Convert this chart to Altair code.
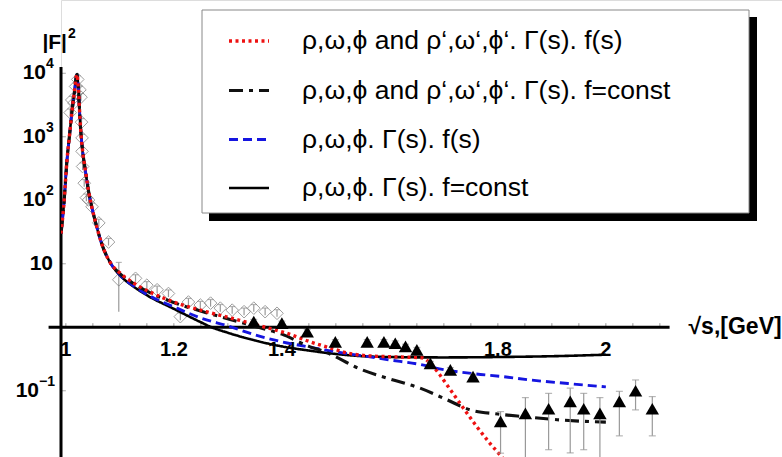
import altair as alt
import pandas as pd

# ---------------- data ----------------
# common resonance part shared by all four model curves
peak_x = [0.991, 0.996, 1.002, 1.007, 1.0115, 1.016, 1.0195, 1.0207, 1.0225, 1.0269,
          1.031, 1.036, 1.042, 1.0485, 1.055, 1.067, 1.082]
peak_y = [30, 80, 420, 1100, 2600, 5200, 9000, 9600, 7000, 1500,
          600, 300, 140, 75, 45, 20, 10.5]

black_x = [1.1, 1.125, 1.15, 1.2, 1.25, 1.27, 1.3, 1.35, 1.4, 1.45, 1.5, 1.55, 1.6, 1.7, 1.8, 1.9, 2.0]
black_y = [6.6, 4.4, 3.2, 1.95, 1.2, 1.0, 0.82, 0.62, 0.5, 0.43, 0.38, 0.35, 0.34, 0.335, 0.34, 0.35, 0.37]

blue_x = [1.1, 1.125, 1.15, 1.2, 1.25, 1.3, 1.35, 1.4, 1.45, 1.5, 1.56, 1.6, 1.65, 1.7, 1.76, 1.81, 1.86, 1.93, 2.0]
blue_y = [6.7, 4.5, 3.3, 2.1, 1.4, 1.05, 0.76, 0.59, 0.49, 0.41, 0.344, 0.305, 0.265, 0.215, 0.184, 0.167, 0.148, 0.13, 0.115]

dd_x = [1.1, 1.125, 1.15, 1.2, 1.26, 1.32, 1.36, 1.4, 1.45, 1.48, 1.545, 1.595, 1.656, 1.703, 1.749, 1.8, 1.85, 1.91, 1.96, 2.0]
dd_y = [7.0, 4.9, 3.7, 2.45, 1.7, 1.22, 0.98, 0.78, 0.5, 0.41, 0.22, 0.158, 0.11, 0.074, 0.05, 0.043, 0.039, 0.035, 0.033, 0.032]

red_x = [1.1, 1.125, 1.15, 1.2, 1.26, 1.32, 1.36, 1.41, 1.45, 1.49, 1.53, 1.56, 1.62, 1.66, 1.675, 1.69,
         1.71, 1.735, 1.76, 1.785, 1.81, 1.83]
red_y = [7.2, 5.0, 3.8, 2.5, 1.76, 1.3, 1.05, 0.8, 0.6, 0.47, 0.38, 0.355, 0.34, 0.33, 0.27, 0.19,
         0.11, 0.055, 0.028, 0.015, 0.0085, 0.005]

# open diamonds (data set 1)
dia_x = [1.008, 1.011, 1.015, 1.018, 1.022, 1.026, 1.028, 1.029, 1.030, 1.030, 1.031, 1.034, 1.038,
         1.042, 1.0485, 1.061, 1.079, 1.098, 1.129, 1.15, 1.169, 1.19, 1.212, 1.227, 1.249, 1.268,
         1.286, 1.308, 1.33, 1.348, 1.369, 1.391]
dia_y = [2400, 3800, 3400, 6200, 8000, 5500, 4200, 1700, 960, 590, 340, 186, 110,
         101, 79, 44, 22, 5.6, 5.9, 4.6, 3.9, 3.4, 1.47, 2.5, 2.24, 2.4,
         2.0, 1.86, 1.76, 2.0, 1.76, 1.66]
dia_lo = [v * 0.88 for v in dia_y]
dia_hi = [v * 1.14 for v in dia_y]
dia_lo[17] = 1.76
dia_hi[17] = 10.5

# filled triangles (data set 2)
tri_x = [1.348, 1.40, 1.447, 1.499, 1.558, 1.589, 1.61, 1.629, 1.65, 1.675, 1.712, 1.754,
         1.805, 1.851, 1.894, 1.934, 1.959, 1.989, 2.025, 2.055, 2.086]
tri_y = [1.23, 1.16, 0.85, 0.59, 0.59, 0.59, 0.56, 0.50, 0.44, 0.27, 0.213, 0.167,
         0.033, 0.044, 0.052, 0.068, 0.052, 0.044, 0.068, 0.10, 0.052]
tri_lo = [1.13, 1.07, 0.79, 0.55, 0.55, 0.55, 0.52, 0.46, 0.41, 0.25, 0.195, 0.152,
          0.0104, 0.005, 0.0118, 0.0105, 0.0118, 0.005, 0.0195, 0.05, 0.0195]
tri_hi = [1.33, 1.25, 0.92, 0.64, 0.64, 0.64, 0.61, 0.54, 0.48, 0.29, 0.232, 0.182,
          0.047, 0.078, 0.091, 0.11, 0.091, 0.078, 0.098, 0.148, 0.081]

x_tick_labels = ["1", "1.2", "1.4", "1.8", "2"]
x_tick_label_pos = [1.0, 1.2, 1.4, 1.8, 2.0]
x_minor = [1.0, 1.05, 1.1, 1.15, 1.2, 1.25, 1.3, 1.35, 1.4, 1.45, 1.5, 1.55, 1.6, 1.65, 1.7,
           1.75, 1.8, 1.85, 1.9, 1.95, 2.0, 2.05, 2.1]
y_tick_pos = [0.1, 10, 100, 1000, 10000]
y_pow_pos = [100, 1000, 10000]          # labelled 10^n with one-digit exponent
y_pow_exp = ["2", "3", "4"]
y_plain_pos = [10]                      # labelled "10"
y_neg_pos = [0.1]                       # labelled 10^-1

L1 = "ρ,ω,ϕ and ρ‘,ω‘,ϕ‘. Γ(s). f(s)"
L2 = "ρ,ω,ϕ and ρ‘,ω‘,ϕ‘. Γ(s). f=const"
L3 = "ρ,ω,ϕ. Γ(s). f(s)"
L4 = "ρ,ω,ϕ. Γ(s). f=const"
series_order = [L1, L2, L3, L4]

# ---------------- tables ----------------
rows = []
for name, xs, ys in [(L4, black_x, black_y), (L3, blue_x, blue_y), (L2, dd_x, dd_y), (L1, red_x, red_y)]:
    for i, (x, y) in enumerate(zip(peak_x + xs, peak_y + ys)):
        rows.append({"series": name, "x": x, "y": y, "i": i})
curves = pd.DataFrame(rows)
dia = pd.DataFrame({"x": dia_x, "y": dia_y, "lo": dia_lo, "hi": dia_hi})
tri = pd.DataFrame({"x": tri_x, "y": tri_y, "lo": tri_lo, "hi": tri_hi})

XMIN = 0.991
X = alt.Scale(domain=[XMIN, XMIN + 721 / 540], nice=False, zero=False)
Y = alt.Scale(type="log", domain=[0.009057, 142560], nice=False)
FONT = "Liberation Sans"


def xe(f="x"):
    return alt.X(f"{f}:Q", scale=X, axis=None)


def ye(f="y"):
    return alt.Y(f"{f}:Q", scale=Y, axis=None)


def txt(df, size, dx=0, dy=0, align="right"):
    return alt.Chart(df).mark_text(
        font=FONT, fontSize=size, fontWeight="bold", baseline="middle", align=align,
        dx=dx, dy=dy, color="black").encode(x=xe(), y=ye(), text="t:N")


one = pd.DataFrame({"k": [0]})

# legend frame (shadow + box)
shadow = alt.Chart(one).mark_rect(fill="black").encode(
    x=alt.value(148), x2=alt.value(696), y=alt.value(17), y2=alt.value(221))
box = alt.Chart(one).mark_rect(fill="white", stroke="#888", strokeWidth=1).encode(
    x=alt.value(141), x2=alt.value(688), y=alt.value(10), y2=alt.value(213))

# axes
xaxis_line = alt.Chart(pd.DataFrame({"x": [0.968], "x2": [2.118], "y": [1.0]})).mark_rule(
    color="black", strokeWidth=3).encode(x=xe(), x2="x2:Q", y=ye())
yaxis_line = alt.Chart(pd.DataFrame({"x": [XMIN], "y": [12600], "y2": [0.009057]})).mark_rule(
    color="black", strokeWidth=3).encode(x=xe(), y=ye(), y2="y2:Q")
xticks = alt.Chart(pd.DataFrame({"x": x_minor, "y": [1.0] * len(x_minor), "y2": [1.16] * len(x_minor)})).mark_rule(
    color="#999", strokeWidth=1).encode(x=xe(), y=ye(), y2="y2:Q")
yticks = alt.Chart(pd.DataFrame({"y": y_tick_pos, "x": [XMIN] * 5, "x2": [1.0] * 5})).mark_rule(
    color="#aaa", strokeWidth=1).encode(x=xe(), x2="x2:Q", y=ye())
xlabels = txt(pd.DataFrame({"x": x_tick_label_pos, "y": [1.0] * 5, "t": x_tick_labels}), 20, dy=23, align="center")

pow_base = txt(pd.DataFrame({"x": [XMIN] * 3, "y": y_pow_pos, "t": ["10"] * 3}), 21, dx=-15)
pow_exp = txt(pd.DataFrame({"x": [XMIN] * 3, "y": y_pow_pos, "t": y_pow_exp}), 14, dx=-15, dy=-9, align="left")
plain = txt(pd.DataFrame({"x": [XMIN], "y": y_plain_pos, "t": ["10"]}), 21, dx=-8)
neg_base = txt(pd.DataFrame({"x": [XMIN], "y": y_neg_pos, "t": ["10"]}), 21, dx=-22)
neg_exp = txt(pd.DataFrame({"x": [XMIN], "y": y_neg_pos, "t": ["−1"]}), 14, dx=-22, dy=-9, align="left")

ytitle = txt(pd.DataFrame({"x": [XMIN], "y": [30000], "t": ["|F|"]}), 21, dx=6)
ytitle_exp = txt(pd.DataFrame({"x": [XMIN], "y": [30000], "t": ["2"]}), 14, dx=7, dy=-9, align="left")
xtitle = txt(pd.DataFrame({"x": [2.153], "y": [1.0], "t": ["√s,[GeV]"]}), 23, align="left")

leg = alt.Legend(title=None, orient="none", legendX=166, legendY=19, symbolType="stroke",
                 symbolSize=1600, symbolStrokeWidth=2.6, labelFont=FONT, labelFontSize=26.5,
                 labelColor="black", labelOffset=31, rowPadding=13.5, padding=0, labelLimit=700)

lines = alt.Chart(curves).mark_line(interpolate="monotone", clip=True).encode(
    x=xe(), y=ye(),
    color=alt.Color("series:N", scale=alt.Scale(domain=series_order,
                    range=["#ee1111", "#111111", "#1515e0", "#000000"]), legend=leg),
    strokeDash=alt.StrokeDash("series:N", scale=alt.Scale(domain=series_order,
                    range=[[3, 3.5], [14, 6, 4, 6], [9, 5], [1, 0]]), legend=leg),
    strokeWidth=alt.StrokeWidth("series:N", scale=alt.Scale(domain=series_order,
                    range=[3.4, 2.6, 2.6, 2.6]), legend=leg),
    order="i:Q",
)

dia_bar = alt.Chart(dia).mark_rule(color="#999", strokeWidth=1.2, clip=True).encode(x=xe(), y=ye("lo"), y2="hi:Q")
dia_cap = alt.Chart(dia).mark_tick(color="#999", orient="horizontal", size=6, thickness=1.2).encode(x=xe(), y=ye("hi"))
dia_pts = alt.Chart(dia).mark_point(shape="diamond", filled=False, color="#777", size=160, strokeWidth=1).encode(
    x=xe(), y=ye())

tri_bar = alt.Chart(tri).mark_rule(color="#999", strokeWidth=1.2, clip=True).encode(x=xe(), y=ye("lo"), y2="hi:Q")
tri_cap_hi = alt.Chart(tri).mark_tick(color="#999", orient="horizontal", size=7, thickness=1.2).encode(x=xe(), y=ye("hi"))
tri_cap_lo = alt.Chart(tri).mark_tick(color="#999", orient="horizontal", size=7, thickness=1.2, clip=True).encode(x=xe(), y=ye("lo"))
tri_pts = alt.Chart(tri).mark_point(shape="triangle-up", filled=True, color="black", size=180, opacity=1).encode(
    x=xe(), y=ye())

chart = alt.layer(
    shadow, box, xlabels, xticks, yticks, xaxis_line, yaxis_line,
    pow_base, pow_exp, plain, neg_base, neg_exp, ytitle, ytitle_exp, xtitle,
    dia_bar, dia_cap, dia_pts, lines, tri_bar, tri_cap_hi, tri_cap_lo, tri_pts,
).properties(
    width=721, height=457, autosize="none",
    padding={"left": 61, "top": 0, "right": 0, "bottom": 0},
).configure_view(stroke=None).configure(background="white")

chart.save("out.html", embed_options={"renderer": "svg", "actions": False})
